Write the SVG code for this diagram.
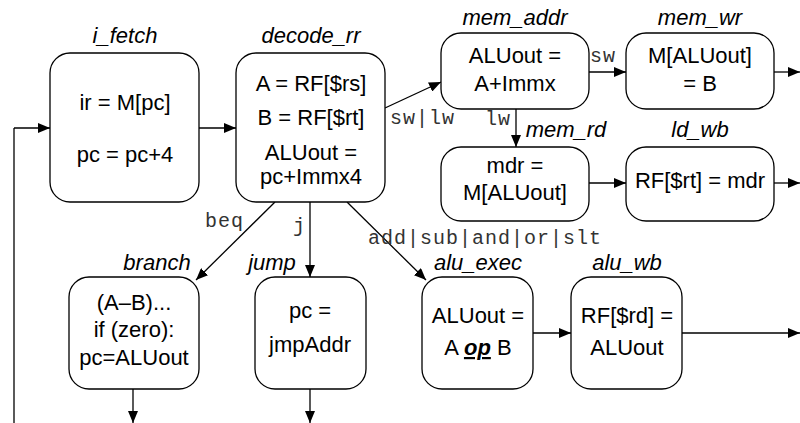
<svg xmlns="http://www.w3.org/2000/svg" width="800" height="423" viewBox="0 0 800 423">
<defs>
<marker id="ah" viewBox="0 0 12 10" refX="12" refY="5" markerWidth="12" markerHeight="10" markerUnits="userSpaceOnUse" orient="auto">
<path d="M0,0 L12,5 L0,10 z" fill="#000"/>
</marker>
<style>
.box{fill:#fff;stroke:#000;stroke-width:1.3}
.t{font-family:"Liberation Sans",Arial,sans-serif;font-size:22px;text-anchor:middle;fill:#000}
.lab{font-family:"Liberation Sans",Arial,sans-serif;font-size:22px;font-style:italic;text-anchor:middle;fill:#000}
.m{font-family:"Liberation Mono","Courier New",monospace;font-size:20px;letter-spacing:1px;fill:#333}
.c{fill:none;stroke:#000;stroke-width:1.3;marker-end:url(#ah)}
.cn{fill:none;stroke:#000;stroke-width:1.3}
</style>
</defs>
<rect width="800" height="423" fill="#fff"/>
<g id="connectors">
<path class="cn" d="M14,423 L14,128"/>
<path class="c" d="M14,128 L50,128"/>
<path class="c" d="M199,128 L236,128"/>
<path class="c" d="M385,108 L441,82"/>
<path class="c" d="M589,72 L626,72"/>
<path class="c" d="M774,72 L800,72"/>
<path class="c" d="M516,109 L516,147"/>
<path class="c" d="M589,183 L626,183"/>
<path class="c" d="M774,183 L800,183"/>
<path class="c" d="M275,202 L196,280"/>
<path class="c" d="M310,202 L310,277"/>
<path class="c" d="M347,202 L426,280"/>
<path class="c" d="M533,333 L571,333"/>
<path class="c" d="M682,333 L800,333"/>
<path class="c" d="M133,389 L133,423"/>
<path class="c" d="M310,389 L310,423"/>
<text class="m" x="390" y="124">sw|lw</text>
<text class="m" x="590" y="62">sw</text>
<text class="m" x="485" y="125">lw</text>
<text class="m" x="205" y="227">beq</text>
<text class="m" x="293" y="232">j</text>
<text class="m" x="368" y="244">add|sub|and|or|slt</text>
</g>
<g id="i_fetch">
<text class="lab" x="125" y="43">i_fetch</text>
<rect class="box" x="50" y="53" width="149" height="149" rx="20"/>
<text class="t" x="125" y="110">ir = M[pc]</text>
<text class="t" x="125" y="162">pc = pc+4</text>
</g>
<g id="decode_rr">
<text class="lab" x="311" y="43">decode_rr</text>
<rect class="box" x="236" y="53" width="149" height="149" rx="20"/>
<text class="t" x="311" y="91">A = RF[$rs]</text>
<text class="t" x="311" y="125">B = RF[$rt]</text>
<text class="t" x="311" y="160">ALUout =</text>
<text class="t" x="311" y="184">pc+Immx4</text>
</g>
<g id="mem_addr">
<text class="lab" x="515" y="25">mem_addr</text>
<rect class="box" x="441" y="33" width="148" height="76" rx="20"/>
<text class="t" x="515" y="63">ALUout =</text>
<text class="t" x="515" y="91">A+Immx</text>
</g>
<g id="mem_wr">
<text class="lab" x="700" y="25">mem_wr</text>
<rect class="box" x="626" y="33" width="148" height="76" rx="20"/>
<text class="t" x="700" y="63">M[ALUout]</text>
<text class="t" x="700" y="91">= B</text>
</g>
<g id="mem_rd">
<text class="lab" x="566" y="137">mem_rd</text>
<rect class="box" x="441" y="147" width="148" height="74" rx="20"/>
<text class="t" x="515" y="173">mdr =</text>
<text class="t" x="515" y="200">M[ALUout]</text>
</g>
<g id="ld_wb">
<text class="lab" x="700" y="137">ld_wb</text>
<rect class="box" x="626" y="147" width="148" height="74" rx="20"/>
<text class="t" x="700" y="188">RF[$rt] = mdr</text>
</g>
<g id="branch">
<text class="lab" x="157" y="270">branch</text>
<rect class="box" x="69" y="277" width="130" height="112" rx="20"/>
<text class="t" x="134" y="310">(A–B)...</text>
<text class="t" x="134" y="337">if (zero):</text>
<text class="t" x="134" y="365">pc=ALUout</text>
</g>
<g id="jump">
<text class="lab" x="272" y="270">jump</text>
<rect class="box" x="255" y="277" width="111" height="112" rx="20"/>
<text class="t" x="310" y="318">pc =</text>
<text class="t" x="310" y="352">jmpAddr</text>
</g>
<g id="alu_exec">
<text class="lab" x="478" y="270">alu_exec</text>
<rect class="box" x="422" y="277" width="111" height="112" rx="20"/>
<text class="t" x="478" y="323">ALUout =</text>
<text class="t" x="478" y="355">A <tspan font-weight="bold" font-style="italic" text-decoration="underline">op</tspan> B</text>
</g>
<g id="alu_wb">
<text class="lab" x="627" y="270">alu_wb</text>
<rect class="box" x="571" y="277" width="111" height="112" rx="20"/>
<text class="t" x="627" y="323">RF[$rd] =</text>
<text class="t" x="627" y="355">ALUout</text>
</g>
</svg>
